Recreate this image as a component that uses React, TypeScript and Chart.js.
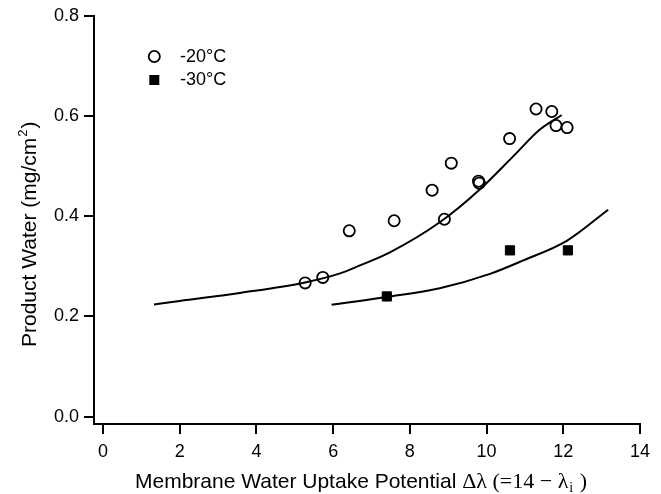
import React, { useEffect, useRef } from 'react';
import { Chart, registerables } from 'chart.js';

Chart.register(...registerables);

// ---- data ----
const xTicks = [0, 2, 4, 6, 8, 10, 12, 14];
const yTicks = [0, 0.2, 0.4, 0.6, 0.8];

const m20X = [5.27, 5.73, 6.42, 7.59, 8.58, 8.9, 9.08, 9.79, 9.81, 10.6, 11.29, 11.7, 11.81, 12.1];
const m20Y = [0.267, 0.278, 0.371, 0.391, 0.452, 0.394, 0.506, 0.47, 0.466, 0.555, 0.614, 0.609, 0.581, 0.577];

const m30X = [7.4, 10.61, 12.12];
const m30Y = [0.24, 0.332, 0.332];

const fit20X = [1.33, 2.0, 3.57, 5.27, 6.18, 6.7, 7.48, 8.78, 9.83, 10.7, 11.39, 11.96];
const fit20Y = [0.224, 0.231, 0.247, 0.268, 0.286, 0.302, 0.328, 0.388, 0.454, 0.52, 0.573, 0.602];

const fit30X = [5.96, 7.39, 8.78, 10.09, 10.96, 12.09, 13.17];
const fit30Y = [0.2235, 0.239, 0.2565, 0.285, 0.312, 0.351, 0.413];

const legendLabels = ['-20°C', '-30°C'];
const xTitleSans = 'Membrane Water Uptake Potential ';
const xTitleSerif = 'Δλ (=14 − λ';
const xTitleSub = 'i';
const xTitleEnd = ' )';
const yTitleMain = 'Product Water (mg/cm';
const yTitleSup = '2';
const yTitleEnd = ')';

const SANS = "'Liberation Sans', Arial, sans-serif";
const SERIF = "'Liberation Serif', 'Times New Roman', serif";

const toPts = (xs: number[], ys: number[]) => xs.map((x, i) => ({ x, y: ys[i] }));

const decorPlugin = {
  id: 'decor',
  afterDraw(chart: any) {
    const ctx = chart.ctx as CanvasRenderingContext2D;
    ctx.save();
    ctx.fillStyle = '#000';
    ctx.strokeStyle = '#000';

    // legend
    ctx.lineWidth = 1.8;
    ctx.beginPath();
    ctx.arc(154.3, 56.5, 5.6, 0, Math.PI * 2);
    ctx.stroke();
    ctx.fillRect(149.3, 75, 10, 10);
    ctx.font = `18px ${SANS}`;
    ctx.textBaseline = 'middle';
    ctx.textAlign = 'left';
    ctx.fillText(legendLabels[0], 180, 57);
    ctx.fillText(legendLabels[1], 180, 80.5);

    // x title
    ctx.textBaseline = 'alphabetic';
    let x = 135;
    const by = 488;
    ctx.font = `21px ${SANS}`;
    ctx.fillText(xTitleSans, x, by);
    x += ctx.measureText(xTitleSans).width;
    ctx.font = `22px ${SERIF}`;
    ctx.fillText(xTitleSerif, x, by);
    x += ctx.measureText(xTitleSerif).width;
    ctx.font = `14px ${SERIF}`;
    ctx.fillText(xTitleSub, x + 1, by + 4);
    x += ctx.measureText(xTitleSub).width + 2;
    ctx.font = `22px ${SERIF}`;
    ctx.fillText(xTitleEnd, x, by);

    // y title
    ctx.translate(35.5, 347);
    ctx.rotate(-Math.PI / 2);
    let yx = 0;
    ctx.font = `21px ${SANS}`;
    ctx.fillText(yTitleMain, yx, 0);
    yx += ctx.measureText(yTitleMain).width;
    ctx.font = `13px ${SANS}`;
    ctx.fillText(yTitleSup, yx + 1, -9);
    yx += ctx.measureText(yTitleSup).width + 2;
    ctx.font = `21px ${SANS}`;
    ctx.fillText(yTitleEnd, yx, 0);
    ctx.restore();
  },
};

export default function App() {
  const ref = useRef<HTMLCanvasElement | null>(null);

  useEffect(() => {
    if (!ref.current) return;
    const chart = new Chart(ref.current, {
      type: 'scatter',
      data: {
        datasets: [
          {
            label: 'fit -20',
            data: toPts(fit20X, fit20Y),
            showLine: true,
            borderColor: '#000',
            borderWidth: 2,
            pointRadius: 0,
            cubicInterpolationMode: 'monotone',
          } as any,
          {
            label: 'fit -30',
            data: toPts(fit30X, fit30Y),
            showLine: true,
            borderColor: '#000',
            borderWidth: 2,
            pointRadius: 0,
            cubicInterpolationMode: 'monotone',
          } as any,
          {
            label: legendLabels[0],
            data: toPts(m20X, m20Y),
            pointStyle: 'circle',
            pointRadius: 5.6,
            borderWidth: 1.8,
            borderColor: '#000',
            backgroundColor: 'rgba(0,0,0,0)',
          },
          {
            label: legendLabels[1],
            data: toPts(m30X, m30Y),
            pointStyle: 'rect',
            pointRadius: 6.5,
            borderWidth: 1,
            borderColor: '#000',
            backgroundColor: '#000',
          },
        ],
      },
      options: {
        animation: false,
        responsive: false,
        events: [],
        layout: { padding: { left: 0, top: 14, right: 21, bottom: 0 } },
        plugins: { legend: { display: false }, tooltip: { enabled: false } },
        scales: {
          x: {
            type: 'linear',
            min: -0.2346,
            max: 14,
            afterBuildTicks: (s: any) => {
              s.ticks = xTicks.map((v) => ({ value: v }));
            },
            afterFit: (s: any) => {
              s.height = 70;
            },
            grid: { drawOnChartArea: false, drawTicks: true, tickLength: 10, color: '#000', lineWidth: 2 },
            border: { display: true, color: '#000', width: 2 },
            ticks: {
              color: '#000',
              font: { family: SANS, size: 18 },
              padding: 7,
              maxRotation: 0,
              callback: (v: any) => String(v),
            },
          },
          y: {
            type: 'linear',
            min: -0.0145,
            max: 0.8,
            afterBuildTicks: (s: any) => {
              s.ticks = yTicks.map((v) => ({ value: v }));
            },
            afterFit: (s: any) => {
              s.width = 94;
            },
            grid: { drawOnChartArea: false, drawTicks: true, tickLength: 10, color: '#000', lineWidth: 2 },
            border: { display: true, color: '#000', width: 2 },
            ticks: {
              color: '#000',
              font: { family: SANS, size: 18 },
              padding: 5,
              callback: (v: any) => Number(v).toFixed(1),
            },
          },
        },
      },
      plugins: [decorPlugin],
    });
    return () => chart.destroy();
  }, []);

  return (
    <div style={{ position: 'fixed', left: 0, top: 0, width: 661, height: 494, background: '#fff' }}>
      <canvas ref={ref} width={661} height={494} />
    </div>
  );
}
